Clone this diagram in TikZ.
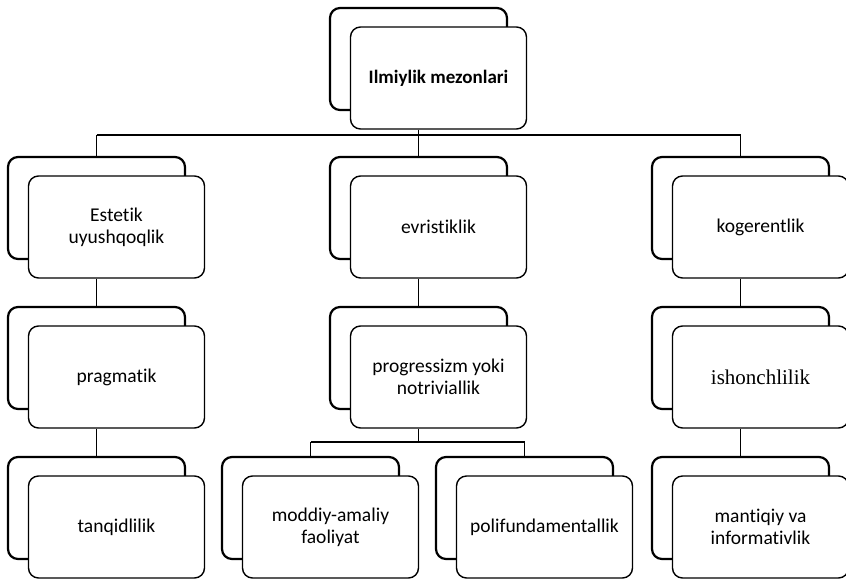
\documentclass[tikz,border=0pt]{standalone}
\usepackage{fontspec}
\setmainfont[RawFeature=-liga]{Carlito}
\newfontfamily\tnrfont{Liberation Serif}
\newcommand\twobox[4]{%
  \node[backbox] (#1b) at (#2,#3) {};
  \node[frontbox] (#1) at (#2+20,#3+19) {#4};
}
\begin{document}
\begin{tikzpicture}[x=1pt,y=-1pt,
  backbox/.style={draw=black, line width=2.2pt, rounded corners=10pt, minimum width=177pt, minimum height=102pt, fill=white, inner sep=0pt},
  frontbox/.style={draw=black, line width=1.4pt, rounded corners=10pt, minimum width=176pt, minimum height=102pt, fill=white, align=center, font=\fontsize{19.5}{22}\selectfont, inner sep=0pt},
  link/.style={draw=black, line width=1.3pt}]
\useasboundingbox[fill=white] (0,0) rectangle (846,579);

\twobox{top}{418.5}{59}{\fontsize{19}{22}\selectfont\textbf{Ilmiylik mezonlari}}
\twobox{es}{96.5}{208}{Estetik\\uyushqoqlik}
\twobox{ev}{418.5}{208}{evristiklik}
\twobox{ko}{740.5}{208}{kogerentlik}
\twobox{pr}{96.5}{358}{pragmatik}
\twobox{pg}{418.5}{358}{progressizm yoki\\notriviallik}
\twobox{is}{740.5}{358}{{\tnrfont\fontsize{21}{22}\selectfont ishonchlilik}}
\twobox{ta}{96.5}{508}{tanqidlilik}
\twobox{mo}{310.5}{508}{moddiy-amaliy\\faoliyat}
\twobox{po}{524.5}{508}{polifundamentallik}
\twobox{ma}{740.5}{508}{mantiqiy va\\informativlik}

\coordinate (h1) at (418.5,135);
\draw[link] (top.south -| topb.center) -- (h1);
\draw[link] (esb.north |- h1) -- (kob.north |- h1);
\draw[link] (esb.north |- h1) -- (esb.north);
\draw[link] (evb.north |- h1) -- (evb.north);
\draw[link] (kob.north |- h1) -- (kob.north);

\draw[link] (es.south -| esb.center) -- (prb.north);
\draw[link] (pr.south -| prb.center) -- (tab.north);
\draw[link] (ev.south -| evb.center) -- (pgb.north);
\draw[link] (ko.south -| kob.center) -- (isb.north);
\draw[link] (is.south -| isb.center) -- (mab.north);

\coordinate (h2) at (418.5,442);
\draw[link] (pg.south -| pgb.center) -- (h2);
\draw[link] (mob.north |- h2) -- (pob.north |- h2);
\draw[link] (mob.north |- h2) -- (mob.north);
\draw[link] (pob.north |- h2) -- (pob.north);
\end{tikzpicture}
\end{document}
